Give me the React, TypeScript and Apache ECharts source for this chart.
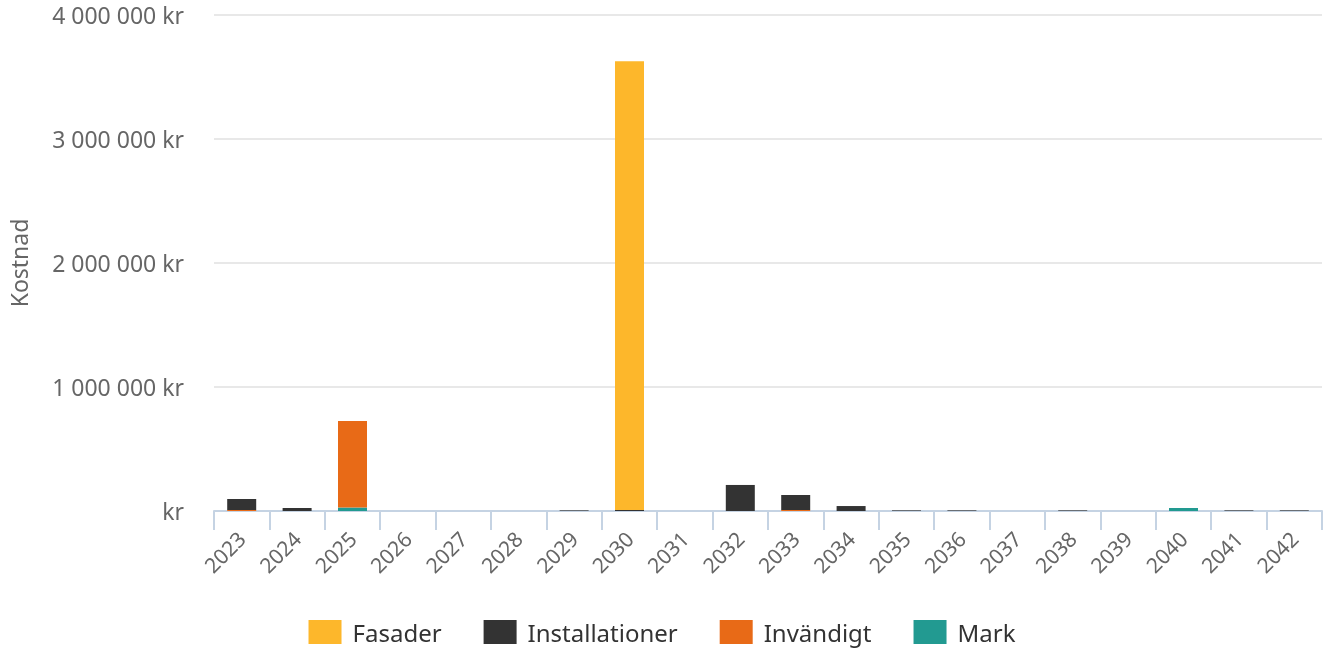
import React, { useEffect, useRef } from "react";
import * as echarts from "echarts";

const years = ["2023","2024","2025","2026","2027","2028","2029","2030","2031","2032","2033","2034","2035","2036","2037","2038","2039","2040","2041","2042"];
const fasader =        [0, 0, 0, 0, 0, 0, 0, 3620000, 0, 0, 0, 0, 0, 0, 0, 0, 0, 0, 0, 0];
const installationer = [88000, 24000, 0, 0, 0, 0, 5000, 8000, 0, 210000, 121000, 40000, 5000, 5000, 0, 5000, 0, 0, 5000, 5000];
const invandigt =      [8000, 0, 698000, 0, 0, 0, 0, 0, 0, 0, 8000, 0, 0, 0, 0, 0, 0, 0, 0, 0];
const mark =           [0, 0, 28000, 0, 0, 0, 0, 0, 0, 0, 0, 0, 0, 0, 0, 0, 0, 24000, 0, 0];
const yTicks = { min: 0, max: 4000000, interval: 1000000 };

const FONT = "Noto Sans";

function fmt(v: number) {
  if (v === 0) return "kr";
  return String(v).replace(/\B(?=(\d{3})+(?!\d))/g, " ") + " kr";
}

export default function App() {
  const ref = useRef<HTMLDivElement>(null);
  useEffect(() => {
    const chart = echarts.init(ref.current!, null, { renderer: "svg" });
    const mk = (name: string, data: number[], color: string) => ({
      name, type: "bar", stack: "s", data, barWidth: 29,
      itemStyle: { color }, emphasis: { disabled: true },
    });
    chart.setOption({
      animation: false,
      textStyle: { fontFamily: FONT },
      grid: { left: 214, right: 2, top: 15, bottom: 139, containLabel: false, outerBoundsMode: "none" },
      legend: {
        bottom: 1, left: "center", itemWidth: 33, itemHeight: 24, itemGap: 42,
        icon: "rect",
        data: ["Fasader", "Installationer", "Invändigt", "Mark"],
        textStyle: { fontSize: 24, color: "#333", fontFamily: FONT, padding: [0, 0, 0, 6] },
      },
      xAxis: {
        type: "category", data: years,
        axisLine: { lineStyle: { color: "#c5d3e3", width: 2 } },
        axisTick: { show: true, alignWithLabel: false, length: 19, lineStyle: { color: "#c5d3e3", width: 2 } },
        axisLabel: { rotate: 45, fontSize: 21, color: "#666", margin: 24, interval: 0, fontFamily: FONT },
      },
      yAxis: {
        type: "value", ...yTicks,
        name: "Kostnad", nameLocation: "middle", nameGap: 184,
        nameTextStyle: { fontSize: 23, color: "#666", fontFamily: FONT },
        axisLine: { show: false }, axisTick: { show: false },
        splitLine: { lineStyle: { color: "#e0e0e0", width: 1.5 } },
        axisLabel: { formatter: fmt, fontSize: 23, color: "#666", margin: 30, fontFamily: FONT },
      },
      series: [
        mk("Mark", mark, "#229a91"),
        mk("Invändigt", invandigt, "#e86a17"),
        mk("Installationer", installationer, "#333333"),
        mk("Fasader", fasader, "#fdb72b"),
      ],
    });
    return () => chart.dispose();
  }, []);
  return <div ref={ref} style={{ position: "fixed", left: 0, top: 0, width: 1324, height: 650 }} />;
}
